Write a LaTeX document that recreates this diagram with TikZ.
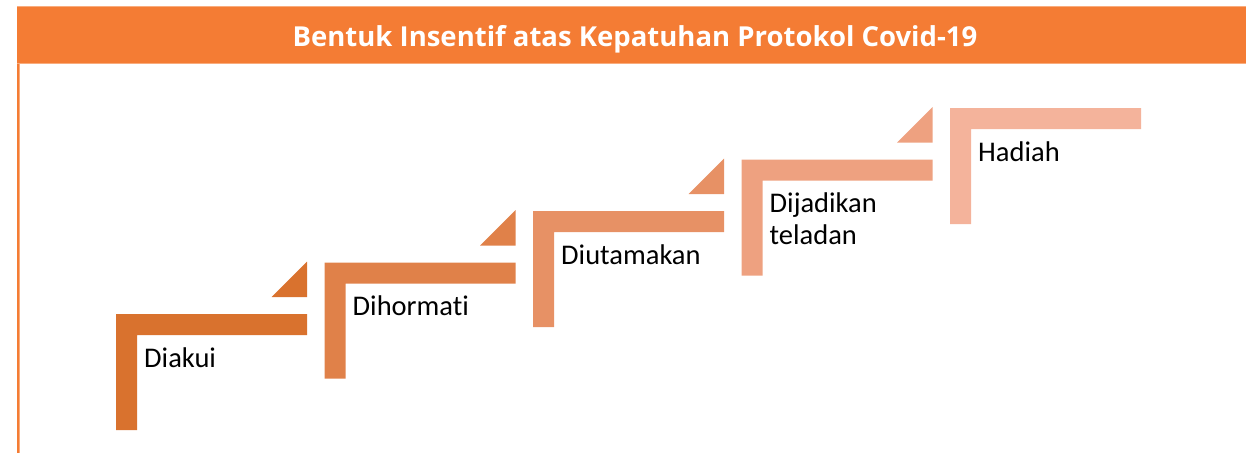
\documentclass[tikz,border=0pt]{standalone}
\usepackage{fontspec}
\setmainfont{Carlito}[Ligatures=NoCommon]
\newfontfamily\titlefont{Open Sans}
\usetikzlibrary{positioning}
\definecolor{headbar}{RGB}{244,124,52}
\definecolor{headedge}{RGB}{249,172,125}
\definecolor{stepA}{RGB}{217,114,46}
\definecolor{stepB}{RGB}{224,129,73}
\definecolor{stepC}{RGB}{231,145,101}
\definecolor{stepD}{RGB}{238,161,128}
\definecolor{stepE}{RGB}{244,179,155}

\begin{document}
\begin{tikzpicture}[x=1pt, y=-1pt,
    steplabel/.style={anchor=base west, align=left, inner sep=0pt,
      font=\fontsize{28.5}{32}\selectfont, text=black}]

  \useasboundingbox (0,0) rectangle (1246,453);

  % Header bar
  \fill[headbar] (17,6) rectangle (1246,64);
  \draw[headedge, line width=0.8pt] (17,6.4) -- (1246,6.4);
  \draw[headedge, line width=0.8pt] (17,63.6) -- (1246,63.6);
  \node[font=\titlefont\fontsize{27.5}{32}\selectfont\bfseries, text=white, anchor=base, inner sep=0pt]
    (title) at (635,46) {Bentuk Insentif atas Kepatuhan Protokol Covid-19};

  % Left border
  \fill[headbar] (17,64) rectangle (19.5,453);
  \draw[headedge, line width=0.6pt] (19.5,64) -- (19.5,453);

  % Steps
  \foreach \i/\col/\dy/\txt in {0/stepA/0/Diakui, 1/stepB/0/Dihormati, 2/stepC/0/Diutamakan,
                                3/stepD/-32/{Dijadikan\\teladan}, 4/stepE/0/Hadiah} {
    \pgfmathsetmacro{\sx}{116+208.5*\i}
    \pgfmathsetmacro{\sy}{314-51.5*\i}
    \fill[\col] (\sx,\sy) -- ++(191,0) -- ++(0,21) -- ++(-170,0) -- ++(0,95) -- ++(-21,0) -- cycle;
    \node[steplabel, yshift=\dy pt] (lbl\i) at (\sx+28,\sy+53) {\txt};
  }

  % Small triangles
  \foreach \i/\col in {0/stepA, 1/stepB, 2/stepC, 3/stepD} {
    \pgfmathsetmacro{\sx}{116+208.5*\i}
    \pgfmathsetmacro{\sy}{314-51.5*\i}
    \fill[\col] (\sx+191,\sy-17) -- ++(0,-35.5) -- ++(-35.5,35.5) -- cycle;
  }

\end{tikzpicture}
\end{document}
